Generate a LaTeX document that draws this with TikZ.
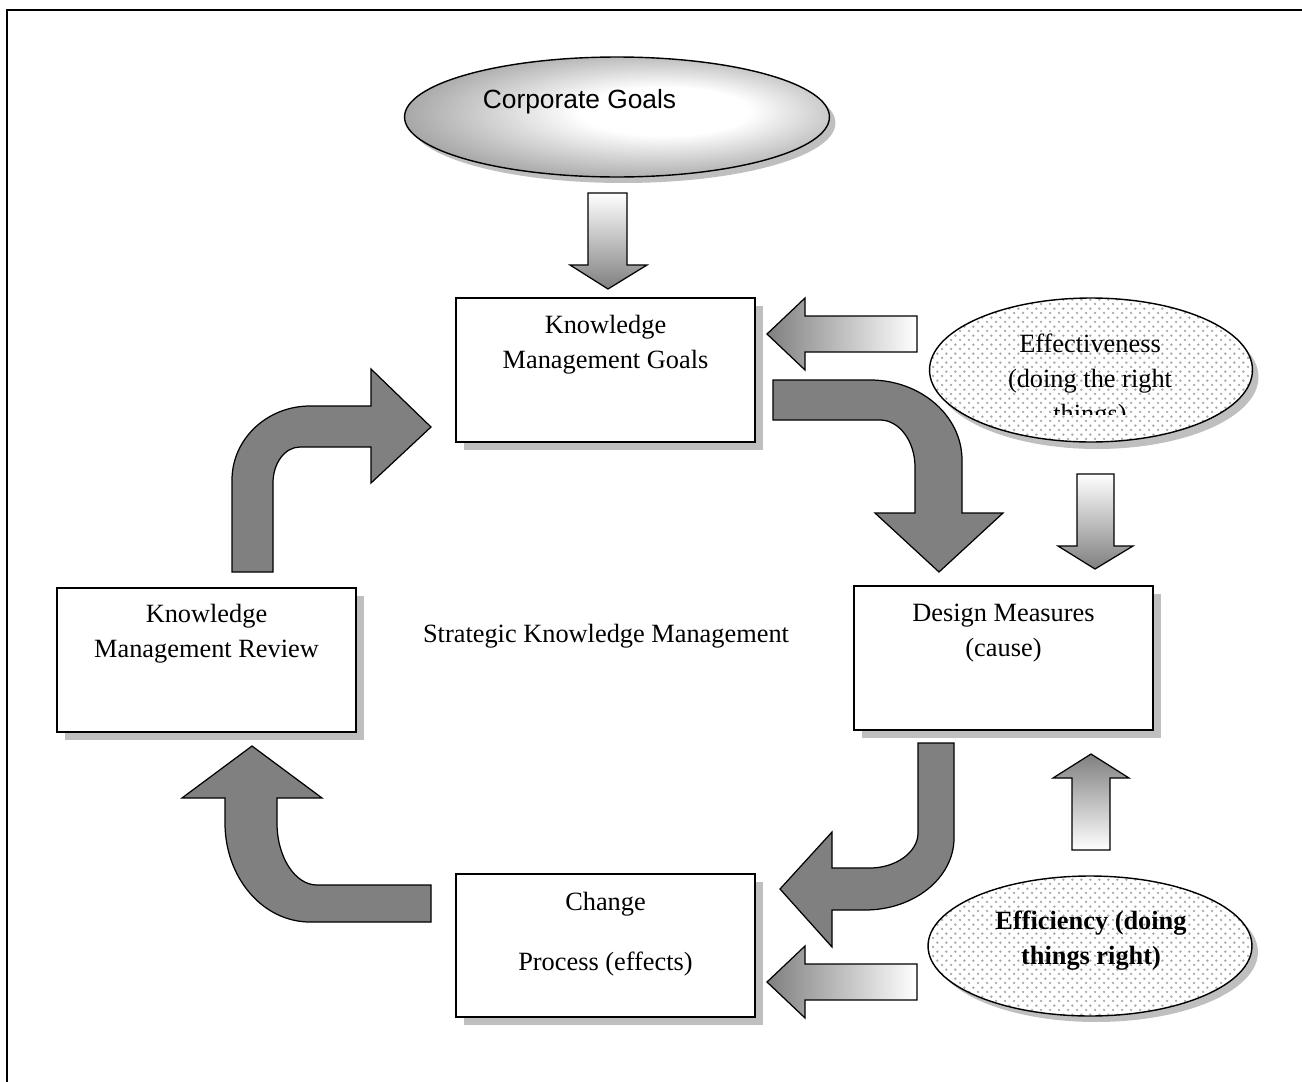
\documentclass[tikz,border=0pt]{standalone}
\usepackage{fontspec}
\setmainfont{Liberation Serif}
\newfontfamily\arialfont{Liberation Sans}
\usetikzlibrary{shapes.geometric,patterns}

% staggered grey dots used inside the two quality ellipses
\pgfdeclarepatternformonly{softdots}{\pgfqpoint{0pt}{0pt}}{\pgfqpoint{5pt}{5pt}}{\pgfqpoint{5pt}{5pt}}{%
  \pgfpathcircle{\pgfqpoint{1.2pt}{1.2pt}}{0.75pt}%
  \pgfpathcircle{\pgfqpoint{3.7pt}{3.7pt}}{0.75pt}%
  \pgfusepath{fill}}

% off-centre glossy shading of the corporate goals ellipse
\pgfdeclareradialshading{goalshade}{\pgfpoint{7bp}{3bp}}{%
  color(0bp)=(white); color(10bp)=(white); color(31bp)=(black!40); color(50bp)=(black!40)}

\definecolor{arrowgray}{gray}{0.5}
\definecolor{shadowgray}{gray}{0.75}

\begin{document}
\begin{tikzpicture}[x=0.02cm, y=-0.02cm,
  txt/.style={font=\fontsize{15}{20}\selectfont, inner sep=0pt, anchor=base},
  kbox/.style={draw, line width=1pt, fill=white, minimum width=5.98cm, minimum height=2.88cm, inner sep=0pt},
  boxshadow/.style={fill=shadowgray, minimum width=5.98cm, minimum height=2.88cm, inner sep=0pt},
  oval/.style={ellipse, inner sep=0pt, line width=0.8pt},
  blockarrow/.style={draw, line width=0.7pt, fill=arrowgray, line join=miter},
  fadeleft/.style={draw, line width=0.7pt, line join=miter, left color=arrowgray, middle color=black!42, right color=white},
  fadedown/.style={draw, line width=0.7pt, line join=miter, top color=white, bottom color=arrowgray},
  fadeup/.style={draw, line width=0.7pt, line join=miter, top color=arrowgray, bottom color=white}
]
\useasboundingbox (0,0) rectangle (1302,1082);

% outer frame
\draw[line width=1.2pt] (7,1090) -- (7,10) -- (1310,10);

% ---------- ellipses ----------
\node[oval, fill=shadowgray, minimum width=8.5cm, minimum height=2.4cm] (cg-sh) at (623,123) {};
\node[oval, draw, shading=goalshade, minimum width=8.5cm, minimum height=2.4cm] (cg) at (617,117) {};
\node[txt, font=\arialfont\fontsize{15}{20}\selectfont] (cg-text) at (579.5,108) {Corporate Goals};

\node[oval, fill=shadowgray, minimum width=6.46cm, minimum height=2.88cm] (eff-sh) at (1097,377) {};
\node[oval, fill=white, minimum width=6.46cm, minimum height=2.88cm] (eff-bg) at (1091,370) {};
\node[oval, draw, pattern=softdots, pattern color=black!33, minimum width=6.46cm, minimum height=2.88cm] (eff) at (1091,370) {};
\begin{scope}
  \clip (930,300) rectangle (1250,414);
  \node[txt] (eff-text) at (1090,352) {\begin{tabular}[t]{@{}c@{}}Effectiveness\\(doing the right\\things)\end{tabular}};
\end{scope}

\node[oval, fill=shadowgray, minimum width=6.48cm, minimum height=2.8cm] (ecy-sh) at (1096,952) {};
\node[oval, fill=white, minimum width=6.48cm, minimum height=2.8cm] (ecy-bg) at (1090,946) {};
\node[oval, draw, pattern=softdots, pattern color=black!33, minimum width=6.48cm, minimum height=2.8cm] (ecy) at (1090,946) {};
\node[txt, font=\bfseries\fontsize{15}{20}\selectfont] (ecy-text) at (1091,929) {\begin{tabular}[t]{@{}c@{}}Efficiency (doing\\things right)\end{tabular}};

% ---------- boxes ----------
\node[boxshadow] (kmg-sh) at (613.5,378) {};
\node[kbox] (kmg) at (605.5,370) {};
\node[txt] (kmg-text) at (605.5,333) {\begin{tabular}[t]{@{}c@{}}Knowledge\\Management Goals\end{tabular}};

\node[boxshadow] (kmr-sh) at (214.5,668) {};
\node[kbox] (kmr) at (206.5,660) {};
\node[txt] (kmr-text) at (206.5,622) {\begin{tabular}[t]{@{}c@{}}Knowledge\\Management Review\end{tabular}};

\node[boxshadow] (dm-sh) at (1011.5,666) {};
\node[kbox] (dm) at (1003.5,658) {};
\node[txt] (dm-text) at (1003.5,621) {\begin{tabular}[t]{@{}c@{}}Design Measures\\(cause)\end{tabular}};

\node[boxshadow, minimum height=2.86cm] (cp-sh) at (613.5,953.5) {};
\node[kbox, minimum height=2.86cm] (cp) at (605.5,945.5) {};
\node[txt] (cp-text) at (605.5,910) {\begin{tabular}[t]{@{}c@{}}Change\\[14.7pt]Process (effects)\end{tabular}};

\node[txt] (skm) at (606,642) {Strategic Knowledge Management};

% ---------- straight block arrows ----------
% corporate goals -> knowledge management goals
\draw[fadedown] (588,193) -- (627,193) -- (627,265) -- (647,265) -- (608,289) -- (570,265) -- (588,265) -- cycle;
% effectiveness -> knowledge management goals
\draw[fadeleft] (917,316) -- (917,352) -- (805,352) -- (805,370) -- (767,334) -- (805,298) -- (805,316) -- cycle;
% effectiveness -> design measures
\draw[fadedown] (1077,474) -- (1114,474) -- (1114,546) -- (1133,546) -- (1095,569) -- (1058,546) -- (1077,546) -- cycle;
% efficiency -> design measures
\draw[fadeup] (1072,850) -- (1110,850) -- (1110,778) -- (1129,778) -- (1091,754) -- (1053,778) -- (1072,778) -- cycle;
% efficiency -> change process
\draw[fadeleft] (917,964) -- (917,1000) -- (805,1000) -- (805,1018) -- (767,982) -- (805,946) -- (805,964) -- cycle;

% ---------- curved block arrows of the cycle ----------
% review -> goals
\draw[blockarrow] (232,572) -- (232,480) .. controls (232,439) and (267,406) .. (310,406) -- (371,406) -- (371,369) -- (431,427) -- (371,483) -- (371,447) -- (300,447) .. controls (285,447) and (273,463) .. (273,483) -- (273,572) -- cycle;
% goals -> design measures
\draw[blockarrow] (773,380) -- (870,380) .. controls (921,380) and (962,416) .. (962,460) -- (962,513) -- (1003,513) -- (939,572) -- (875,513) -- (915,513) -- (915,467) .. controls (915,441) and (899,420) .. (880,420) -- (773,420) -- cycle;
% design measures -> change process
\draw[blockarrow] (918,743) -- (954,743) -- (954,838) .. controls (954,878) and (914,910) .. (865,910) -- (832,910) -- (832,947) -- (780,889) -- (832,832) -- (832,868) -- (870,868) .. controls (896,868) and (918,852) .. (918,833) -- cycle;
% change process -> review
\draw[blockarrow] (431,885) -- (431,922) -- (310,922) .. controls (263,922) and (225,878) .. (225,823) -- (225,798) -- (182,798) -- (252,746) -- (322,798) -- (277,798) -- (277,823) .. controls (277,857) and (295,885) .. (317,885) -- cycle;
\end{tikzpicture}
\end{document}
